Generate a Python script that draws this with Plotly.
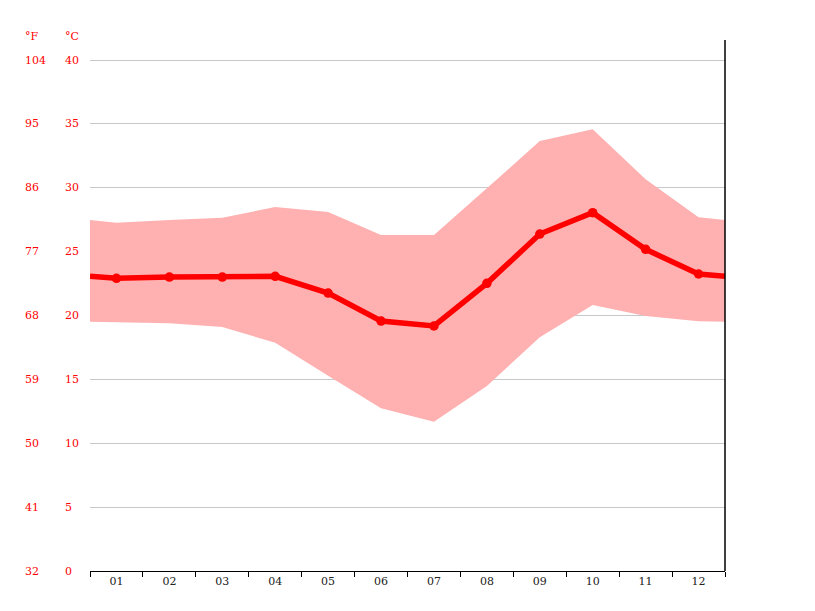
import plotly.graph_objects as go

months = ["01", "02", "03", "04", "05", "06", "07", "08", "09", "10", "11", "12"]
temp_mean = [22.91, 23.01, 23.01, 23.07, 21.76, 19.57, 19.18, 22.52, 26.38, 28.05, 25.18, 23.25]
temp_max = [27.26, 27.48, 27.66, 28.49, 28.10, 26.30, 26.30, 29.96, 33.66, 34.58, 30.66, 27.69]
temp_min = [19.47, 19.39, 19.10, 17.87, 15.28, 12.74, 11.69, 14.48, 18.29, 20.82, 19.96, 19.55]
celsius_ticks = [0, 5, 10, 15, 20, 25, 30, 35, 40]
fahrenheit_labels = ["32", "41", "50", "59", "68", "77", "86", "95", "104"]


def wrap(vals):
    edge = (vals[0] + vals[-1]) / 2
    return [edge] + list(vals) + [edge]


xm = list(range(1, 13))
xw = [0.5] + xm + [12.5]

FONT = "DejaVu Serif"
RED = "#ff0000"
BAND = "#ffb1b1"

fig = go.Figure()
fig.add_trace(go.Scatter(x=xw, y=wrap(temp_min), mode="lines", line=dict(width=0, color=BAND),
                         hoverinfo="skip", showlegend=False))
fig.add_trace(go.Scatter(x=xw, y=wrap(temp_max), mode="lines", line=dict(width=0, color=BAND),
                         fill="tonexty", fillcolor=BAND, hoverinfo="skip", showlegend=False))
fig.add_trace(go.Scatter(x=xw, y=wrap(temp_mean), mode="lines", line=dict(width=5.5, color=RED),
                         showlegend=False))
fig.add_trace(go.Scatter(x=xm, y=temp_mean, mode="markers", marker=dict(size=9.5, color=RED),
                         showlegend=False))

fig.update_xaxes(range=[0.5, 12.5], tickmode="array", tickvals=xm, ticktext=months,
                 ticks="", showgrid=False, zeroline=False, showline=True, linecolor="#000",
                 linewidth=1, tickfont=dict(family=FONT, size=11, color="#222"),
                 minor=dict(tickmode="array", tickvals=[i + 0.5 for i in range(0, 13)],
                            ticks="outside", ticklen=5, tickcolor="#000", tickwidth=1, showgrid=False),
                 fixedrange=True)
fig.update_yaxes(range=[0, 41.57], tickmode="array", tickvals=celsius_ticks, showticklabels=False,
                 ticks="", showgrid=True, gridcolor="#c8c8c8", gridwidth=1, zeroline=False,
                 showline=False, fixedrange=True)

for c, f in zip(celsius_ticks, fahrenheit_labels):
    fig.add_annotation(x=0, xref="paper", y=c, yref="y", text=str(c), showarrow=False,
                       xanchor="left", xshift=-27, font=dict(family=FONT, size=11, color=RED))
    fig.add_annotation(x=0, xref="paper", y=c, yref="y", text=f, showarrow=False,
                       xanchor="left", xshift=-67, font=dict(family=FONT, size=11, color=RED))

fig.add_annotation(x=0, xref="paper", y=1, yref="paper", text="°C", showarrow=False,
                   xanchor="left", xshift=-27, yshift=4, yanchor="middle",
                   font=dict(family=FONT, size=11, color=RED))
fig.add_annotation(x=0, xref="paper", y=1, yref="paper", text="°F", showarrow=False,
                   xanchor="left", xshift=-67, yshift=4, yanchor="middle",
                   font=dict(family=FONT, size=11, color=RED))

fig.add_shape(type="line", xref="paper", yref="paper", x0=1, x1=1, y0=0, y1=1,
              line=dict(color="#000", width=1.5))

fig.update_layout(width=815, height=611, margin=dict(l=90, r=90, t=40, b=40),
                  plot_bgcolor="#fff", paper_bgcolor="#fff", showlegend=False)

fig.write_html("out.html", config={"displayModeBar": False})
